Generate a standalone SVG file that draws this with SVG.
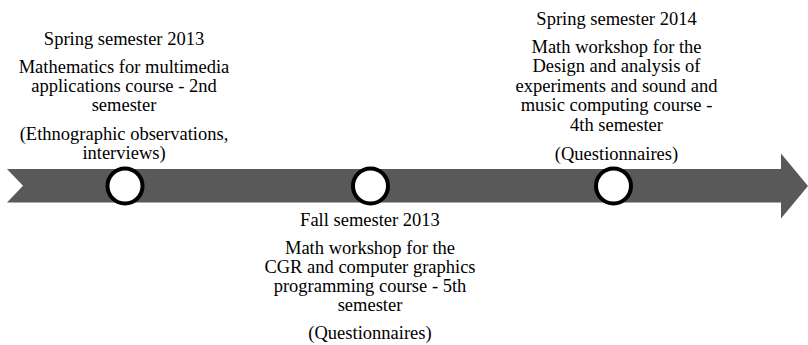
<svg xmlns="http://www.w3.org/2000/svg" width="808" height="345" viewBox="0 0 808 345">
<style>
text{font-family:"Liberation Serif","Times New Roman",serif;font-size:18.5px;fill:#000;text-anchor:middle}
.dot{fill:#fff;stroke:#000;stroke-width:4}
</style>
<rect width="808" height="345" fill="#fff"/>
<g id="connectors">
<polygon id="timeline" points="7,169 781,169 781,153.5 808,186 781,218.5 781,202.5 7,202.5 23,185.7" fill="#595959"/>
</g>
<g id="node1">
<circle class="dot" cx="125" cy="186" r="17.5"/>
<text x="124" y="45">Spring semester 2013</text>
<text x="124" y="72.5">Mathematics for multimedia</text>
<text x="124" y="91.5">applications course - 2nd</text>
<text x="124" y="110.5">semester</text>
<text x="124" y="140">(Ethnographic observations,</text>
<text x="124" y="158.5">interviews)</text>
</g>
<g id="node2">
<circle class="dot" cx="370.5" cy="186" r="17.5"/>
<text x="370" y="226">Fall semester 2013</text>
<text x="370" y="254">Math workshop for the</text>
<text x="370" y="273">CGR and computer graphics</text>
<text x="370" y="292">programming course - 5th</text>
<text x="370" y="311">semester</text>
<text x="370" y="339">(Questionnaires)</text>
</g>
<g id="node3">
<circle class="dot" cx="613.5" cy="186" r="17.5"/>
<text x="616.5" y="25">Spring semester 2014</text>
<text x="616.5" y="53">Math workshop for the</text>
<text x="616.5" y="72">Design and analysis of</text>
<text x="616.5" y="91.5">experiments and sound and</text>
<text x="616.5" y="111">music computing course -</text>
<text x="616.5" y="131">4th semester</text>
<text x="616.5" y="160">(Questionnaires)</text>
</g>
</svg>
